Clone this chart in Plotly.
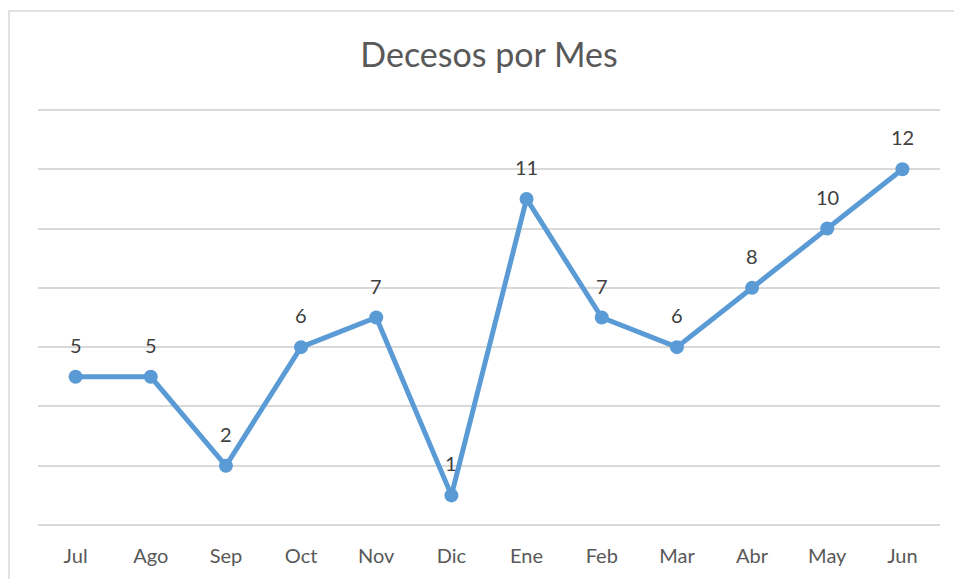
import plotly.graph_objects as go

months = ["Jul", "Ago", "Sep", "Oct", "Nov", "Dic", "Ene", "Feb", "Mar", "Abr", "May", "Jun"]
deaths = [5, 5, 2, 6, 7, 1, 11, 7, 6, 8, 10, 12]

FONT = "Lato, 'Open Sans', sans-serif"
fig = go.Figure()
fig.add_trace(go.Scatter(
    x=months, y=deaths, mode="lines+markers",
    line=dict(color="#5B9BD5", width=5),
    marker=dict(color="#5B9BD5", size=14),
    hoverinfo="x+y", showlegend=False,
))
for m, v in zip(months, deaths):
    fig.add_annotation(x=m, y=v, text=str(v), showarrow=False, yshift=32,
                       font=dict(family=FONT, size=20, color="#404040"))

W, H = 954, 579
L, R, T, B = 38, 14, 107, 51
pw, ph = W - L - R, H - T - B
fig.add_shape(type="rect", xref="paper", yref="paper",
              x0=(9 - L) / pw, x1=(W + 20 - L) / pw,
              y0=-(B + 20) / ph, y1=(H - B - 11) / ph,
              line=dict(color="#D9D9D9", width=1.5), layer="below")

fig.update_layout(
    width=W, height=H,
    margin=dict(l=L, r=R, t=T, b=B),
    paper_bgcolor="white", plot_bgcolor="white",
    title=dict(text="Decesos por Mes", x=489 / W, xanchor="center", y=1 - 55 / H, yanchor="middle",
               font=dict(family=FONT, size=34, color="#595959")),
    xaxis=dict(type="category", range=[-0.5, 11.5], showgrid=False, zeroline=False,
               showline=False, ticks="outside", ticklen=10, tickcolor="rgba(0,0,0,0)",
               automargin=False,
               tickfont=dict(family=FONT, size=20, color="#595959")),
    yaxis=dict(range=[-0.1, 14.1], tickvals=[0, 2, 4, 6, 8, 10, 12, 14], showticklabels=False,
               showgrid=True, gridcolor="#D9D9D9", gridwidth=1.5, zeroline=False,
               showline=False, ticks="", automargin=False),
)
fig.write_html("out.html", config={"displayModeBar": False})
with open("out.html", "r", encoding="utf-8") as f:
    html = f.read()
html = html.replace("<head>", "<head><style>html,body{margin:0;padding:0;overflow:hidden}</style>", 1)
with open("out.html", "w", encoding="utf-8") as f:
    f.write(html)
